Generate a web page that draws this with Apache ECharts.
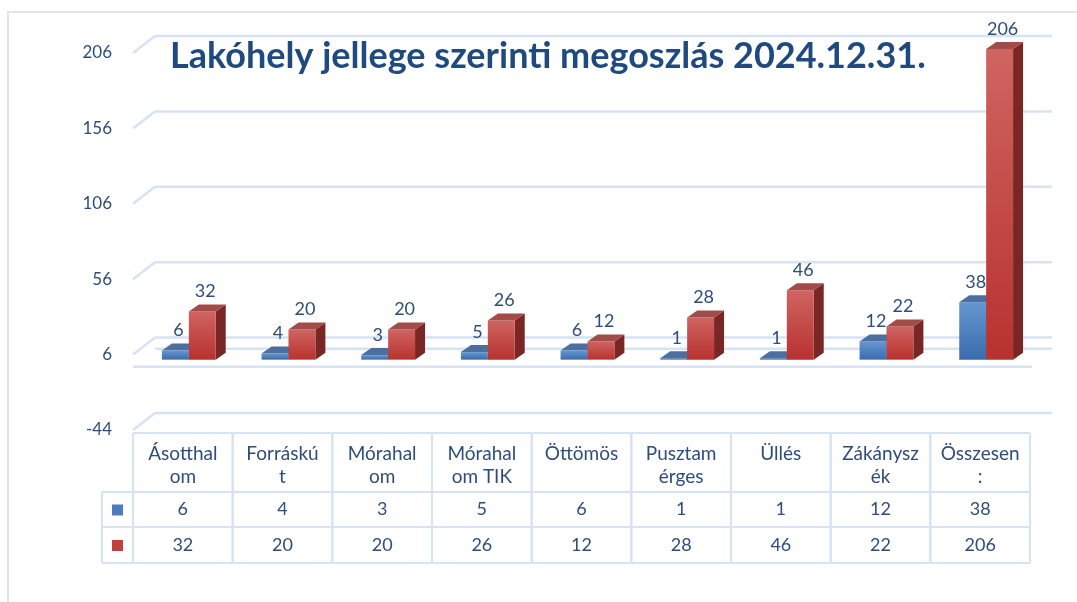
<!DOCTYPE html>
<html lang="hu">
<head>
<meta charset="UTF-8" />
<title>Lakóhely jellege szerinti megoszlás 2024.12.31.</title>
<style>
  * { margin: 0; padding: 0; }
  #main { width: 1077px; height: 602px; }
</style>
</head>
<body>
<div id="main"></div>
<script src="https://cdn.jsdelivr.net/npm/echarts@6/dist/echarts.min.js"></script>
<script>
// header labels, wrapped the same way as in the original table cells
var categories = ['Ásotthal\nom', 'Forráskú\nt', 'Mórahal\nom', 'Mórahal\nom TIK', 'Öttömös', 'Pusztam\nérges', 'Üllés', 'Zákánysz\nék', 'Összesen\n:'];
var blueValues = [6, 4, 3, 5, 6, 1, 1, 12, 38];
var redValues = [32, 20, 20, 26, 12, 28, 46, 22, 206];
var yTicks = [-44, 6, 56, 106, 156, 206];

var textColor = '#2E4D7B';
var gridColor = '#D6E3F4';
var font = 'Lato, "Open Sans", sans-serif';
// fake 3d offsets (wall depth and bar depth)
var wallDx = 22, wallDy = -17;
var barDx = 10, barDy = -7;

var colors = {
  blue: { front: ['#6496D0', '#3A6CAE'], top: '#4C6F9F', side: '#2D5086' },
  red: { front: ['#CF6461', '#B8322F'], top: '#A24C49', side: '#7A2624' }
};

var myEcharts = echarts.init(document.getElementById('main'));

// back wall + left wall gridlines and the floor
function wallItem(params, api) {
  var band = api.size([1, 0])[0];
  var left = api.coord([0, 0])[0] - band / 2;
  var right = api.coord([categories.length - 1, 0])[0] + band / 2;
  var style = { stroke: gridColor, lineWidth: 2.5 };
  var children = [];
  yTicks.forEach(function (t) {
    var y = api.coord([0, t])[1];
    children.push({ type: 'line', shape: { x1: left, y1: y, x2: left + wallDx, y2: y + wallDy }, style: style });
    children.push({ type: 'line', shape: { x1: left + wallDx, y1: y + wallDy, x2: right + wallDx, y2: y + wallDy }, style: style });
  });
  // floor at 0
  var y0 = api.coord([0, 0])[1];
  children.push({ type: 'line', shape: { x1: left + wallDx, y1: y0 + wallDy + 2, x2: right + wallDx, y2: y0 + wallDy + 2 }, style: style });
  children.push({ type: 'line', shape: { x1: left, y1: y0 + 3, x2: right + 2, y2: y0 + 3 }, style: style });
  return { type: 'group', children: children };
}

function barItem(side) {
  return function (params, api) {
    var idx = api.value(0);
    var v = api.value(1);
    var band = api.size([1, 0])[0];
    var base = api.coord([idx, 0]);
    var top = api.coord([idx, v]);
    var w = band * 0.27;
    var cx = base[0] + band * 0.06;
    var x0 = side === 'blue' ? cx - w : cx;
    var yb = base[1] - 4, yt = top[1] - 4;
    var c = colors[side];
    return {
      type: 'group',
      children: [
        {
          type: 'polygon',
          shape: { points: [[x0 + w, yt], [x0 + w + barDx, yt + barDy], [x0 + w + barDx, yb + barDy], [x0 + w, yb]] },
          style: { fill: c.side }
        },
        {
          type: 'rect',
          shape: { x: x0, y: yt, width: w, height: yb - yt },
          style: {
            fill: new echarts.graphic.LinearGradient(0, 0, 0, 1, [
              { offset: 0, color: c.front[0] },
              { offset: 1, color: c.front[1] }
            ])
          }
        },
        {
          type: 'polygon',
          shape: { points: [[x0, yt], [x0 + w, yt], [x0 + w + barDx, yt + barDy], [x0 + barDx, yt + barDy]] },
          style: { fill: c.top }
        },
        {
          type: 'text',
          style: {
            text: String(v), x: x0 + w / 2 + 3, y: yt + barDy - 4,
            align: 'center', verticalAlign: 'bottom',
            fill: textColor, fontSize: 18, fontFamily: font
          }
        }
      ]
    };
  };
}

// data table under the chart
function tableItem(params, api) {
  var idx = api.value(0);
  var band = api.size([1, 0])[0];
  var c = api.coord([idx, yTicks[0]]);
  var x0 = c[0] - band / 2, x1 = c[0] + band / 2;
  var y0 = c[1] + 3, y1 = y0 + 59, y2 = y1 + 35, y3 = y2 + 36;
  var ls = { stroke: gridColor, lineWidth: 2 };
  var ts = { fill: textColor, fontSize: 18, fontFamily: font, align: 'center' };
  var children = [
    { type: 'line', shape: { x1: x0, y1: y0, x2: x0, y2: y3 }, style: ls },
    { type: 'line', shape: { x1: x1, y1: y0, x2: x1, y2: y3 }, style: ls },
    { type: 'line', shape: { x1: x0, y1: y0, x2: x1, y2: y0 }, style: ls },
    { type: 'line', shape: { x1: x0, y1: y1, x2: x1, y2: y1 }, style: ls },
    { type: 'line', shape: { x1: x0, y1: y2, x2: x1, y2: y2 }, style: ls },
    { type: 'line', shape: { x1: x0, y1: y3, x2: x1, y2: y3 }, style: ls },
    { type: 'text', style: Object.assign({ text: categories[idx], x: c[0], y: y0 + 9, verticalAlign: 'top', lineHeight: 23 }, ts, { fontSize: 19 }) },
    { type: 'text', style: Object.assign({ text: String(api.value(1)), x: c[0], y: (y1 + y2) / 2, verticalAlign: 'middle' }, ts) },
    { type: 'text', style: Object.assign({ text: String(api.value(2)), x: c[0], y: (y2 + y3) / 2, verticalAlign: 'middle' }, ts) }
  ];
  if (idx === 0) {
    var lx = x0 - 31;
    children.push(
      { type: 'line', shape: { x1: lx, y1: y1, x2: x0, y2: y1 }, style: ls },
      { type: 'line', shape: { x1: lx, y1: y2, x2: x0, y2: y2 }, style: ls },
      { type: 'line', shape: { x1: lx, y1: y3, x2: x0, y2: y3 }, style: ls },
      { type: 'line', shape: { x1: lx, y1: y1, x2: lx, y2: y3 }, style: ls },
      { type: 'rect', shape: { x: lx + 10, y: (y1 + y2) / 2 - 5, width: 11, height: 11 }, style: { fill: '#4A7CC0' } },
      { type: 'rect', shape: { x: lx + 10, y: (y2 + y3) / 2 - 5, width: 11, height: 11 }, style: { fill: '#C2403D' } }
    );
  }
  return { type: 'group', children: children };
}

var option = {
  animation: false,
  title: {
    text: 'Lakóhely jellege szerinti megoszlás 2024.12.31.',
    left: 165,
    top: 33,
    textStyle: { color: '#1F4A80', fontSize: 36, fontWeight: 'bold', fontFamily: font }
  },
  graphic: [{
    type: 'rect',
    shape: { x: 8, y: 12, width: 1100, height: 620 },
    style: { fill: 'none', stroke: '#DCE6F2', lineWidth: 2 },
    z: -10
  }],
  grid: { left: 133, right: 47, top: 53, bottom: 172 },
  xAxis: {
    type: 'category',
    data: categories,
    axisLine: { show: false },
    axisTick: { show: false },
    axisLabel: { show: false }
  },
  yAxis: {
    type: 'value',
    min: -44,
    max: 206,
    interval: 50,
    axisLine: { show: false },
    axisTick: { show: false },
    splitLine: { show: false },
    axisLabel: { color: textColor, fontSize: 17, fontFamily: font, margin: 21 }
  },
  series: [
    {
      type: 'custom',
      name: 'walls',
      renderItem: wallItem,
      data: [[0, 0]],
      z: 1,
      silent: true
    },
    {
      type: 'custom',
      name: 'blue',
      renderItem: barItem('blue'),
      data: blueValues.map(function (v, i) { return [i, v]; }),
      z: 2
    },
    {
      type: 'custom',
      name: 'red',
      renderItem: barItem('red'),
      data: redValues.map(function (v, i) { return [i, v]; }),
      z: 3
    },
    {
      type: 'custom',
      name: 'table',
      renderItem: tableItem,
      data: categories.map(function (c, i) { return [i, blueValues[i], redValues[i]]; }),
      z: 2,
      silent: true
    }
  ]
};

myEcharts.setOption(option);
</script>
</body>
</html>
